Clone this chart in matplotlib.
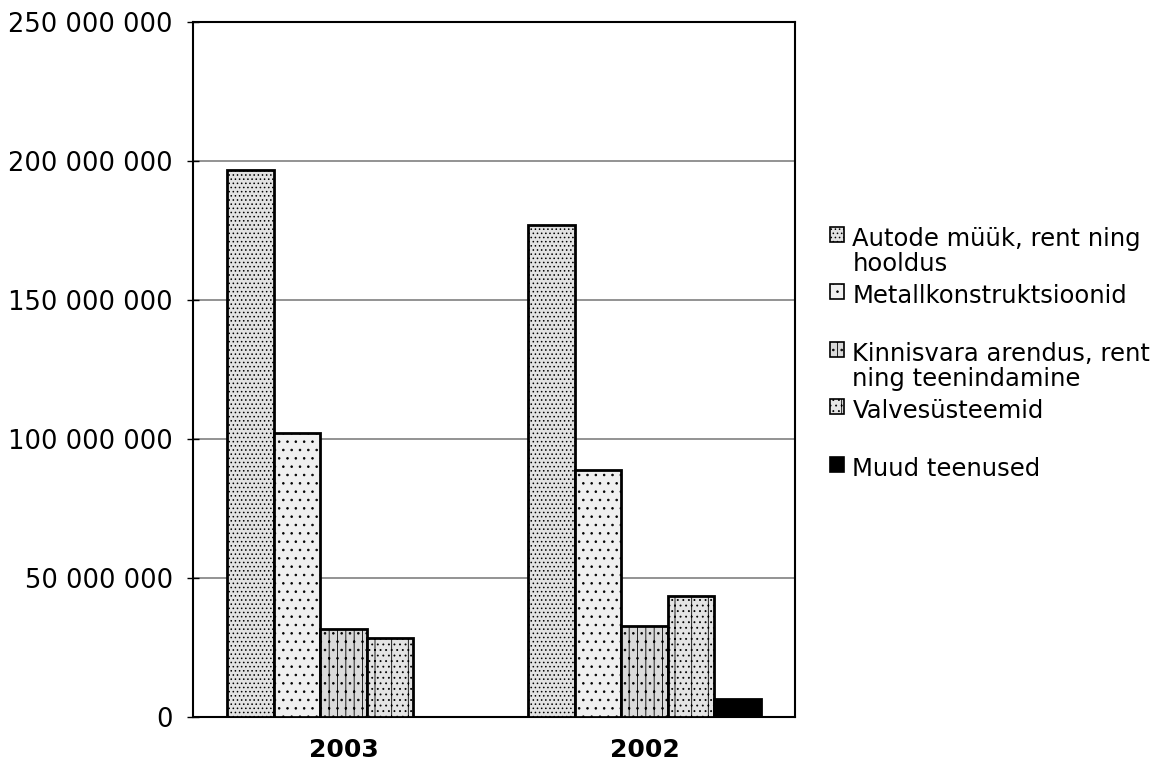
import numpy as np
import matplotlib
matplotlib.use("Agg")
import matplotlib.pyplot as plt
from matplotlib.ticker import FuncFormatter

# dati
categories = ["2003", "2002"]
series_labels = [
    "Autode müük, rent ning\nhooldus",
    "Metallkonstruktsioonid\n",
    "Kinnisvara arendus, rent\nning teenindamine",
    "Valvesüsteemid\n",
    "Muud teenused\n",
]
values_2003 = [196.7e6, 102.3e6, 31.5e6, 28.5e6, 0]
values_2002 = [177.0e6, 89.0e6, 32.7e6, 43.5e6, 6.5e6]
y_ticks = [0, 50e6, 100e6, 150e6, 200e6, 250e6]

# stile delle serie (retinature come nella scansione)
faces = ["#e2e2e2", "#f0f0f0", "#dadada", "#e4e4e4", "black"]
hatches = ["....", "..", "||..", "|...", None]

plt.rcParams["font.family"] = ["DejaVu Sans"]
plt.rcParams["hatch.linewidth"] = 0.6
plt.rcParams["hatch.color"] = "#555555"

fig = plt.figure(figsize=(11.63, 7.69), dpi=100)
ax = fig.add_axes([0.166, 0.0676, 0.5178, 0.9038])

x = np.arange(len(categories))
w = 0.1545
data = np.array([values_2003, values_2002])  # righe = anni

for i, lab in enumerate(series_labels):
    ax.bar(x + (i - 2) * w, data[:, i], width=w, color=faces[i],
           edgecolor="black", linewidth=2, hatch=hatches[i], zorder=3,
           label=lab)

ax.set_xlim(-0.5, 1.5)
ax.set_ylim(0, 250e6)
ax.set_yticks(y_ticks)
ax.yaxis.set_major_formatter(FuncFormatter(lambda v, p: f"{int(v):,}".replace(",", " ")))
ax.set_xticks(x)
ax.set_xticklabels(categories, fontsize=18, fontweight="bold")
ax.tick_params(axis="x", length=0, pad=15)
ax.tick_params(axis="y", direction="inout", length=9, width=1, labelsize=18.5, pad=10)
ax.grid(axis="y", color="#808080", linewidth=1.2, zorder=0)
for s in ax.spines.values():
    s.set_linewidth(1.5)
    s.set_color("black")

leg = fig.legend(loc="upper left", bbox_to_anchor=(0.7056, 0.718), frameon=False,
                 fontsize=17.5, handlelength=0.58, handleheight=0.58,
                 handletextpad=0.33, labelspacing=0.34, borderaxespad=0)
for t in leg.get_texts():
    t.set_linespacing(1.07)
# quadratino allineato alla prima riga del testo
for col in leg._legend_handle_box.get_children():
    for item in col.get_children():
        item.align = "top"
for p in leg.get_patches():
    p.set_linewidth(1.2)

fig.savefig("out.png", dpi=100)
